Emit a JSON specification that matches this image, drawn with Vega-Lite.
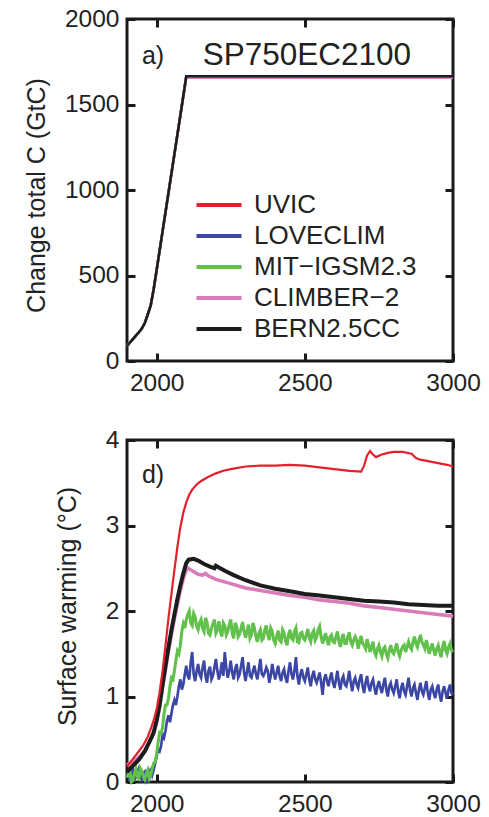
{
"$schema": "https://vega.github.io/schema/vega-lite/v6.json",
"padding": {"left": 22, "top": 4, "right": 5, "bottom": 5},
"background": "white",
"config": {
  "font": "Liberation Sans",
  "view": {"stroke": "#1a1a1a", "strokeWidth": 3},
  "axis": {"domain": false, "grid": false, "tickSize": -8, "tickWidth": 3, "tickColor": "#1a1a1a", "labelFontSize": 24.5, "labelColor": "#222", "titleFontSize": 25, "titleFontWeight": "normal", "titleColor": "#222", "labelFlush": false, "labelOverlap": false},
  "axisX": {"labelPadding": 18},
  "axisY": {"labelPadding": 16}
},
"datasets": {
"a": [
{"m":"UVIC","t":1900,"v":88},{"m":"UVIC","t":1910,"v":108},{"m":"UVIC","t":1920,"v":128},{"m":"UVIC","t":1930,"v":148},{"m":"UVIC","t":1940,"v":168},{"m":"UVIC","t":1950,"v":190},{"m":"UVIC","t":1960,"v":222},{"m":"UVIC","t":1970,"v":272},{"m":"UVIC","t":1980,"v":325},{"m":"UVIC","t":1990,"v":420},{"m":"UVIC","t":2000,"v":532},{"m":"UVIC","t":2010,"v":645},{"m":"UVIC","t":2020,"v":758},{"m":"UVIC","t":2030,"v":871},{"m":"UVIC","t":2040,"v":984},{"m":"UVIC","t":2050,"v":1097},{"m":"UVIC","t":2060,"v":1210},{"m":"UVIC","t":2070,"v":1323},{"m":"UVIC","t":2080,"v":1436},{"m":"UVIC","t":2090,"v":1550},{"m":"UVIC","t":2100,"v":1665},{"m":"UVIC","t":3000,"v":1665},
{"m":"LOVECLIM","t":1900,"v":88},{"m":"LOVECLIM","t":1910,"v":108},{"m":"LOVECLIM","t":1920,"v":128},{"m":"LOVECLIM","t":1930,"v":148},{"m":"LOVECLIM","t":1940,"v":168},{"m":"LOVECLIM","t":1950,"v":190},{"m":"LOVECLIM","t":1960,"v":222},{"m":"LOVECLIM","t":1970,"v":272},{"m":"LOVECLIM","t":1980,"v":325},{"m":"LOVECLIM","t":1990,"v":420},{"m":"LOVECLIM","t":2000,"v":532},{"m":"LOVECLIM","t":2010,"v":645},{"m":"LOVECLIM","t":2020,"v":758},{"m":"LOVECLIM","t":2030,"v":871},{"m":"LOVECLIM","t":2040,"v":984},{"m":"LOVECLIM","t":2050,"v":1097},{"m":"LOVECLIM","t":2060,"v":1210},{"m":"LOVECLIM","t":2070,"v":1323},{"m":"LOVECLIM","t":2080,"v":1436},{"m":"LOVECLIM","t":2090,"v":1550},{"m":"LOVECLIM","t":2100,"v":1665},{"m":"LOVECLIM","t":3000,"v":1665},
{"m":"MIT−IGSM2.3","t":1900,"v":88},{"m":"MIT−IGSM2.3","t":1910,"v":108},{"m":"MIT−IGSM2.3","t":1920,"v":128},{"m":"MIT−IGSM2.3","t":1930,"v":148},{"m":"MIT−IGSM2.3","t":1940,"v":168},{"m":"MIT−IGSM2.3","t":1950,"v":190},{"m":"MIT−IGSM2.3","t":1960,"v":222},{"m":"MIT−IGSM2.3","t":1970,"v":272},{"m":"MIT−IGSM2.3","t":1980,"v":325},{"m":"MIT−IGSM2.3","t":1990,"v":420},{"m":"MIT−IGSM2.3","t":2000,"v":532},{"m":"MIT−IGSM2.3","t":2010,"v":645},{"m":"MIT−IGSM2.3","t":2020,"v":758},{"m":"MIT−IGSM2.3","t":2030,"v":871},{"m":"MIT−IGSM2.3","t":2040,"v":984},{"m":"MIT−IGSM2.3","t":2050,"v":1097},{"m":"MIT−IGSM2.3","t":2060,"v":1210},{"m":"MIT−IGSM2.3","t":2070,"v":1323},{"m":"MIT−IGSM2.3","t":2080,"v":1436},{"m":"MIT−IGSM2.3","t":2090,"v":1550},{"m":"MIT−IGSM2.3","t":2100,"v":1665},{"m":"MIT−IGSM2.3","t":3000,"v":1665},
{"m":"CLIMBER−2","t":1900,"v":88},{"m":"CLIMBER−2","t":1910,"v":108},{"m":"CLIMBER−2","t":1920,"v":128},{"m":"CLIMBER−2","t":1930,"v":148},{"m":"CLIMBER−2","t":1940,"v":168},{"m":"CLIMBER−2","t":1950,"v":190},{"m":"CLIMBER−2","t":1960,"v":222},{"m":"CLIMBER−2","t":1970,"v":272},{"m":"CLIMBER−2","t":1980,"v":325},{"m":"CLIMBER−2","t":1990,"v":420},{"m":"CLIMBER−2","t":2000,"v":532},{"m":"CLIMBER−2","t":2010,"v":645},{"m":"CLIMBER−2","t":2020,"v":758},{"m":"CLIMBER−2","t":2030,"v":871},{"m":"CLIMBER−2","t":2040,"v":984},{"m":"CLIMBER−2","t":2050,"v":1097},{"m":"CLIMBER−2","t":2060,"v":1210},{"m":"CLIMBER−2","t":2070,"v":1323},{"m":"CLIMBER−2","t":2080,"v":1436},{"m":"CLIMBER−2","t":2090,"v":1548},{"m":"CLIMBER−2","t":2100,"v":1656},{"m":"CLIMBER−2","t":3000,"v":1656},
{"m":"BERN2.5CC","t":1900,"v":88},{"m":"BERN2.5CC","t":1910,"v":108},{"m":"BERN2.5CC","t":1920,"v":128},{"m":"BERN2.5CC","t":1930,"v":148},{"m":"BERN2.5CC","t":1940,"v":168},{"m":"BERN2.5CC","t":1950,"v":190},{"m":"BERN2.5CC","t":1960,"v":222},{"m":"BERN2.5CC","t":1970,"v":272},{"m":"BERN2.5CC","t":1980,"v":325},{"m":"BERN2.5CC","t":1990,"v":420},{"m":"BERN2.5CC","t":2000,"v":532},{"m":"BERN2.5CC","t":2010,"v":645},{"m":"BERN2.5CC","t":2020,"v":758},{"m":"BERN2.5CC","t":2030,"v":871},{"m":"BERN2.5CC","t":2040,"v":984},{"m":"BERN2.5CC","t":2050,"v":1097},{"m":"BERN2.5CC","t":2060,"v":1210},{"m":"BERN2.5CC","t":2070,"v":1323},{"m":"BERN2.5CC","t":2080,"v":1436},{"m":"BERN2.5CC","t":2090,"v":1550},{"m":"BERN2.5CC","t":2100,"v":1665},{"m":"BERN2.5CC","t":3000,"v":1665}
],
"d": [
{"m":"LOVECLIM","t":1900,"v":0.1},{"m":"LOVECLIM","t":1910,"v":0.02},{"m":"LOVECLIM","t":1920,"v":0.14},{"m":"LOVECLIM","t":1930,"v":0.05},{"m":"LOVECLIM","t":1940,"v":0.16},{"m":"LOVECLIM","t":1950,"v":0.03},{"m":"LOVECLIM","t":1960,"v":0.12},{"m":"LOVECLIM","t":1970,"v":0.06},{"m":"LOVECLIM","t":1980,"v":0.15},{"m":"LOVECLIM","t":1990,"v":0.14},
{"m":"LOVECLIM","t":2000,"v":0.3},{"m":"LOVECLIM","t":2010,"v":0.36},{"m":"LOVECLIM","t":2020,"v":0.56},{"m":"LOVECLIM","t":2030,"v":0.6},{"m":"LOVECLIM","t":2040,"v":0.78},{"m":"LOVECLIM","t":2050,"v":0.8},{"m":"LOVECLIM","t":2060,"v":0.96},{"m":"LOVECLIM","t":2070,"v":1.0},{"m":"LOVECLIM","t":2080,"v":1.2},{"m":"LOVECLIM","t":2090,"v":1.14},
{"m":"LOVECLIM","t":2100,"v":1.36},{"m":"LOVECLIM","t":2110,"v":1.2},{"m":"LOVECLIM","t":2120,"v":1.52},{"m":"LOVECLIM","t":2130,"v":1.18},{"m":"LOVECLIM","t":2140,"v":1.38},{"m":"LOVECLIM","t":2150,"v":1.22},{"m":"LOVECLIM","t":2160,"v":1.42},{"m":"LOVECLIM","t":2170,"v":1.16},{"m":"LOVECLIM","t":2180,"v":1.35},{"m":"LOVECLIM","t":2190,"v":1.24},
{"m":"LOVECLIM","t":2200,"v":1.44},{"m":"LOVECLIM","t":2210,"v":1.2},{"m":"LOVECLIM","t":2220,"v":1.4},{"m":"LOVECLIM","t":2230,"v":1.52},{"m":"LOVECLIM","t":2240,"v":1.22},{"m":"LOVECLIM","t":2250,"v":1.42},{"m":"LOVECLIM","t":2260,"v":1.2},{"m":"LOVECLIM","t":2270,"v":1.38},{"m":"LOVECLIM","t":2280,"v":1.26},{"m":"LOVECLIM","t":2290,"v":1.46},
{"m":"LOVECLIM","t":2300,"v":1.18},{"m":"LOVECLIM","t":2310,"v":1.4},{"m":"LOVECLIM","t":2320,"v":1.22},{"m":"LOVECLIM","t":2330,"v":1.36},{"m":"LOVECLIM","t":2340,"v":1.2},{"m":"LOVECLIM","t":2350,"v":1.44},{"m":"LOVECLIM","t":2360,"v":1.24},{"m":"LOVECLIM","t":2370,"v":1.34},{"m":"LOVECLIM","t":2380,"v":1.16},{"m":"LOVECLIM","t":2390,"v":1.38},
{"m":"LOVECLIM","t":2400,"v":1.2},{"m":"LOVECLIM","t":2410,"v":1.36},{"m":"LOVECLIM","t":2420,"v":1.18},{"m":"LOVECLIM","t":2430,"v":1.32},{"m":"LOVECLIM","t":2440,"v":1.16},{"m":"LOVECLIM","t":2450,"v":1.4},{"m":"LOVECLIM","t":2460,"v":1.2},{"m":"LOVECLIM","t":2470,"v":1.46},{"m":"LOVECLIM","t":2480,"v":1.14},{"m":"LOVECLIM","t":2490,"v":1.32},
{"m":"LOVECLIM","t":2500,"v":1.18},{"m":"LOVECLIM","t":2510,"v":1.34},{"m":"LOVECLIM","t":2520,"v":1.12},{"m":"LOVECLIM","t":2530,"v":1.3},{"m":"LOVECLIM","t":2540,"v":1.16},{"m":"LOVECLIM","t":2550,"v":1.28},{"m":"LOVECLIM","t":2560,"v":1.02},{"m":"LOVECLIM","t":2570,"v":1.26},{"m":"LOVECLIM","t":2580,"v":1.12},{"m":"LOVECLIM","t":2590,"v":1.28},
{"m":"LOVECLIM","t":2600,"v":1.1},{"m":"LOVECLIM","t":2610,"v":1.3},{"m":"LOVECLIM","t":2620,"v":1.08},{"m":"LOVECLIM","t":2630,"v":1.24},{"m":"LOVECLIM","t":2640,"v":1.12},{"m":"LOVECLIM","t":2650,"v":1.3},{"m":"LOVECLIM","t":2660,"v":1.06},{"m":"LOVECLIM","t":2670,"v":1.22},{"m":"LOVECLIM","t":2680,"v":1.1},{"m":"LOVECLIM","t":2690,"v":1.26},
{"m":"LOVECLIM","t":2700,"v":1.04},{"m":"LOVECLIM","t":2710,"v":1.24},{"m":"LOVECLIM","t":2720,"v":1.06},{"m":"LOVECLIM","t":2730,"v":1.2},{"m":"LOVECLIM","t":2740,"v":1.02},{"m":"LOVECLIM","t":2750,"v":1.18},{"m":"LOVECLIM","t":2760,"v":1.04},{"m":"LOVECLIM","t":2770,"v":1.22},{"m":"LOVECLIM","t":2780,"v":1.0},{"m":"LOVECLIM","t":2790,"v":1.16},
{"m":"LOVECLIM","t":2800,"v":1.04},{"m":"LOVECLIM","t":2810,"v":1.2},{"m":"LOVECLIM","t":2820,"v":0.98},{"m":"LOVECLIM","t":2830,"v":1.16},{"m":"LOVECLIM","t":2840,"v":1.02},{"m":"LOVECLIM","t":2850,"v":1.22},{"m":"LOVECLIM","t":2860,"v":1.0},{"m":"LOVECLIM","t":2870,"v":1.14},{"m":"LOVECLIM","t":2880,"v":0.96},{"m":"LOVECLIM","t":2890,"v":1.16},
{"m":"LOVECLIM","t":2900,"v":1.02},{"m":"LOVECLIM","t":2910,"v":1.18},{"m":"LOVECLIM","t":2920,"v":0.96},{"m":"LOVECLIM","t":2930,"v":1.12},{"m":"LOVECLIM","t":2940,"v":0.98},{"m":"LOVECLIM","t":2950,"v":1.14},{"m":"LOVECLIM","t":2960,"v":0.94},{"m":"LOVECLIM","t":2970,"v":1.12},{"m":"LOVECLIM","t":2980,"v":0.98},{"m":"LOVECLIM","t":2990,"v":1.14},{"m":"LOVECLIM","t":3000,"v":1.02},
{"m":"LOVECLIM","t":1905,"v":0.06},{"m":"LOVECLIM","t":1915,"v":0.1},{"m":"LOVECLIM","t":1925,"v":0.03},{"m":"LOVECLIM","t":1935,"v":0.12},{"m":"LOVECLIM","t":1945,"v":0.07},{"m":"LOVECLIM","t":1955,"v":0.1},{"m":"LOVECLIM","t":1965,"v":0.02},{"m":"LOVECLIM","t":1975,"v":0.13},{"m":"LOVECLIM","t":1985,"v":0.08},{"m":"LOVECLIM","t":1995,"v":0.22},
{"m":"LOVECLIM","t":2005,"v":0.38},{"m":"LOVECLIM","t":2015,"v":0.42},{"m":"LOVECLIM","t":2025,"v":0.52},{"m":"LOVECLIM","t":2035,"v":0.72},{"m":"LOVECLIM","t":2045,"v":0.7},{"m":"LOVECLIM","t":2055,"v":0.9},{"m":"LOVECLIM","t":2065,"v":0.9},{"m":"LOVECLIM","t":2075,"v":1.12},{"m":"LOVECLIM","t":2085,"v":1.08},{"m":"LOVECLIM","t":2095,"v":1.26},
{"m":"LOVECLIM","t":2105,"v":1.24},{"m":"LOVECLIM","t":2115,"v":1.4},{"m":"LOVECLIM","t":2125,"v":1.26},{"m":"LOVECLIM","t":2135,"v":1.3},{"m":"LOVECLIM","t":2145,"v":1.26},{"m":"LOVECLIM","t":2155,"v":1.34},{"m":"LOVECLIM","t":2165,"v":1.24},{"m":"LOVECLIM","t":2175,"v":1.3},{"m":"LOVECLIM","t":2185,"v":1.2},{"m":"LOVECLIM","t":2195,"v":1.34},
{"m":"LOVECLIM","t":2205,"v":1.3},{"m":"LOVECLIM","t":2215,"v":1.28},{"m":"LOVECLIM","t":2225,"v":1.24},{"m":"LOVECLIM","t":2235,"v":1.34},{"m":"LOVECLIM","t":2245,"v":1.3},{"m":"LOVECLIM","t":2255,"v":1.28},{"m":"LOVECLIM","t":2265,"v":1.32},{"m":"LOVECLIM","t":2275,"v":1.22},{"m":"LOVECLIM","t":2285,"v":1.36},{"m":"LOVECLIM","t":2295,"v":1.28},
{"m":"LOVECLIM","t":2305,"v":1.3},{"m":"LOVECLIM","t":2315,"v":1.24},{"m":"LOVECLIM","t":2325,"v":1.3},{"m":"LOVECLIM","t":2335,"v":1.26},{"m":"LOVECLIM","t":2345,"v":1.32},{"m":"LOVECLIM","t":2355,"v":1.26},{"m":"LOVECLIM","t":2365,"v":1.28},{"m":"LOVECLIM","t":2375,"v":1.3},{"m":"LOVECLIM","t":2385,"v":1.24},{"m":"LOVECLIM","t":2395,"v":1.28},
{"m":"LOVECLIM","t":2405,"v":1.28},{"m":"LOVECLIM","t":2415,"v":1.24},{"m":"LOVECLIM","t":2425,"v":1.28},{"m":"LOVECLIM","t":2435,"v":1.22},{"m":"LOVECLIM","t":2445,"v":1.3},{"m":"LOVECLIM","t":2455,"v":1.26},{"m":"LOVECLIM","t":2465,"v":1.3},{"m":"LOVECLIM","t":2475,"v":1.24},{"m":"LOVECLIM","t":2485,"v":1.26},{"m":"LOVECLIM","t":2495,"v":1.22},
{"m":"LOVECLIM","t":2505,"v":1.26},{"m":"LOVECLIM","t":2515,"v":1.2},{"m":"LOVECLIM","t":2525,"v":1.24},{"m":"LOVECLIM","t":2535,"v":1.2},{"m":"LOVECLIM","t":2545,"v":1.22},{"m":"LOVECLIM","t":2555,"v":1.16},{"m":"LOVECLIM","t":2565,"v":1.2},{"m":"LOVECLIM","t":2575,"v":1.18},{"m":"LOVECLIM","t":2585,"v":1.22},{"m":"LOVECLIM","t":2595,"v":1.16},
{"m":"LOVECLIM","t":2605,"v":1.2},{"m":"LOVECLIM","t":2615,"v":1.16},{"m":"LOVECLIM","t":2625,"v":1.2},{"m":"LOVECLIM","t":2635,"v":1.14},{"m":"LOVECLIM","t":2645,"v":1.2},{"m":"LOVECLIM","t":2655,"v":1.16},{"m":"LOVECLIM","t":2665,"v":1.18},{"m":"LOVECLIM","t":2675,"v":1.14},{"m":"LOVECLIM","t":2685,"v":1.2},{"m":"LOVECLIM","t":2695,"v":1.12},
{"m":"LOVECLIM","t":2705,"v":1.16},{"m":"LOVECLIM","t":2715,"v":1.12},{"m":"LOVECLIM","t":2725,"v":1.16},{"m":"LOVECLIM","t":2735,"v":1.1},{"m":"LOVECLIM","t":2745,"v":1.12},{"m":"LOVECLIM","t":2755,"v":1.1},{"m":"LOVECLIM","t":2765,"v":1.14},{"m":"LOVECLIM","t":2775,"v":1.08},{"m":"LOVECLIM","t":2785,"v":1.12},{"m":"LOVECLIM","t":2795,"v":1.08},
{"m":"LOVECLIM","t":2805,"v":1.12},{"m":"LOVECLIM","t":2815,"v":1.06},{"m":"LOVECLIM","t":2825,"v":1.1},{"m":"LOVECLIM","t":2835,"v":1.06},{"m":"LOVECLIM","t":2845,"v":1.12},{"m":"LOVECLIM","t":2855,"v":1.08},{"m":"LOVECLIM","t":2865,"v":1.1},{"m":"LOVECLIM","t":2875,"v":1.04},{"m":"LOVECLIM","t":2885,"v":1.08},{"m":"LOVECLIM","t":2895,"v":1.06},
{"m":"LOVECLIM","t":2905,"v":1.1},{"m":"LOVECLIM","t":2915,"v":1.04},{"m":"LOVECLIM","t":2925,"v":1.08},{"m":"LOVECLIM","t":2935,"v":1.04},{"m":"LOVECLIM","t":2945,"v":1.08},{"m":"LOVECLIM","t":2955,"v":1.02},{"m":"LOVECLIM","t":2965,"v":1.06},{"m":"LOVECLIM","t":2975,"v":1.04},{"m":"LOVECLIM","t":2985,"v":1.08},{"m":"LOVECLIM","t":2995,"v":1.04},
{"m":"MIT−IGSM2.3","t":1900,"v":0.05},{"m":"MIT−IGSM2.3","t":1910,"v":0.12},{"m":"MIT−IGSM2.3","t":1920,"v":0.02},{"m":"MIT−IGSM2.3","t":1930,"v":0.15},{"m":"MIT−IGSM2.3","t":1940,"v":0.04},{"m":"MIT−IGSM2.3","t":1950,"v":0.13},{"m":"MIT−IGSM2.3","t":1960,"v":0.03},{"m":"MIT−IGSM2.3","t":1970,"v":0.14},{"m":"MIT−IGSM2.3","t":1980,"v":0.08},{"m":"MIT−IGSM2.3","t":1990,"v":0.22},
{"m":"MIT−IGSM2.3","t":2000,"v":0.33},{"m":"MIT−IGSM2.3","t":2010,"v":0.58},{"m":"MIT−IGSM2.3","t":2020,"v":0.64},{"m":"MIT−IGSM2.3","t":2030,"v":0.9},{"m":"MIT−IGSM2.3","t":2040,"v":0.98},{"m":"MIT−IGSM2.3","t":2050,"v":1.22},{"m":"MIT−IGSM2.3","t":2060,"v":1.3},{"m":"MIT−IGSM2.3","t":2070,"v":1.53},{"m":"MIT−IGSM2.3","t":2080,"v":1.6},{"m":"MIT−IGSM2.3","t":2090,"v":1.85},
{"m":"MIT−IGSM2.3","t":2100,"v":1.9},{"m":"MIT−IGSM2.3","t":2110,"v":2.0},{"m":"MIT−IGSM2.3","t":2120,"v":1.83},{"m":"MIT−IGSM2.3","t":2130,"v":1.93},{"m":"MIT−IGSM2.3","t":2140,"v":1.78},{"m":"MIT−IGSM2.3","t":2150,"v":1.9},{"m":"MIT−IGSM2.3","t":2160,"v":1.76},{"m":"MIT−IGSM2.3","t":2170,"v":1.87},{"m":"MIT−IGSM2.3","t":2180,"v":1.72},{"m":"MIT−IGSM2.3","t":2190,"v":1.85},
{"m":"MIT−IGSM2.3","t":2200,"v":1.74},{"m":"MIT−IGSM2.3","t":2210,"v":1.88},{"m":"MIT−IGSM2.3","t":2220,"v":1.7},{"m":"MIT−IGSM2.3","t":2230,"v":1.83},{"m":"MIT−IGSM2.3","t":2240,"v":1.76},{"m":"MIT−IGSM2.3","t":2250,"v":1.9},{"m":"MIT−IGSM2.3","t":2260,"v":1.68},{"m":"MIT−IGSM2.3","t":2270,"v":1.82},{"m":"MIT−IGSM2.3","t":2280,"v":1.73},{"m":"MIT−IGSM2.3","t":2290,"v":1.87},
{"m":"MIT−IGSM2.3","t":2300,"v":1.69},{"m":"MIT−IGSM2.3","t":2310,"v":1.84},{"m":"MIT−IGSM2.3","t":2320,"v":1.72},{"m":"MIT−IGSM2.3","t":2330,"v":1.8},{"m":"MIT−IGSM2.3","t":2340,"v":1.64},{"m":"MIT−IGSM2.3","t":2350,"v":1.78},{"m":"MIT−IGSM2.3","t":2360,"v":1.68},{"m":"MIT−IGSM2.3","t":2370,"v":1.83},{"m":"MIT−IGSM2.3","t":2380,"v":1.66},{"m":"MIT−IGSM2.3","t":2390,"v":1.76},
{"m":"MIT−IGSM2.3","t":2400,"v":1.62},{"m":"MIT−IGSM2.3","t":2410,"v":1.77},{"m":"MIT−IGSM2.3","t":2420,"v":1.64},{"m":"MIT−IGSM2.3","t":2430,"v":1.74},{"m":"MIT−IGSM2.3","t":2440,"v":1.6},{"m":"MIT−IGSM2.3","t":2450,"v":1.78},{"m":"MIT−IGSM2.3","t":2460,"v":1.66},{"m":"MIT−IGSM2.3","t":2470,"v":1.8},{"m":"MIT−IGSM2.3","t":2480,"v":1.63},{"m":"MIT−IGSM2.3","t":2490,"v":1.75},
{"m":"MIT−IGSM2.3","t":2500,"v":1.66},{"m":"MIT−IGSM2.3","t":2510,"v":1.79},{"m":"MIT−IGSM2.3","t":2520,"v":1.64},{"m":"MIT−IGSM2.3","t":2530,"v":1.77},{"m":"MIT−IGSM2.3","t":2540,"v":1.7},{"m":"MIT−IGSM2.3","t":2550,"v":1.82},{"m":"MIT−IGSM2.3","t":2560,"v":1.62},{"m":"MIT−IGSM2.3","t":2570,"v":1.74},{"m":"MIT−IGSM2.3","t":2580,"v":1.6},{"m":"MIT−IGSM2.3","t":2590,"v":1.72},
{"m":"MIT−IGSM2.3","t":2600,"v":1.63},{"m":"MIT−IGSM2.3","t":2610,"v":1.76},{"m":"MIT−IGSM2.3","t":2620,"v":1.58},{"m":"MIT−IGSM2.3","t":2630,"v":1.73},{"m":"MIT−IGSM2.3","t":2640,"v":1.62},{"m":"MIT−IGSM2.3","t":2650,"v":1.75},{"m":"MIT−IGSM2.3","t":2660,"v":1.6},{"m":"MIT−IGSM2.3","t":2670,"v":1.7},{"m":"MIT−IGSM2.3","t":2680,"v":1.56},{"m":"MIT−IGSM2.3","t":2690,"v":1.71},
{"m":"MIT−IGSM2.3","t":2700,"v":1.6},{"m":"MIT−IGSM2.3","t":2710,"v":1.67},{"m":"MIT−IGSM2.3","t":2720,"v":1.52},{"m":"MIT−IGSM2.3","t":2730,"v":1.64},{"m":"MIT−IGSM2.3","t":2740,"v":1.48},{"m":"MIT−IGSM2.3","t":2750,"v":1.6},{"m":"MIT−IGSM2.3","t":2760,"v":1.47},{"m":"MIT−IGSM2.3","t":2770,"v":1.58},{"m":"MIT−IGSM2.3","t":2780,"v":1.45},{"m":"MIT−IGSM2.3","t":2790,"v":1.6},
{"m":"MIT−IGSM2.3","t":2800,"v":1.5},{"m":"MIT−IGSM2.3","t":2810,"v":1.62},{"m":"MIT−IGSM2.3","t":2820,"v":1.47},{"m":"MIT−IGSM2.3","t":2830,"v":1.58},{"m":"MIT−IGSM2.3","t":2840,"v":1.52},{"m":"MIT−IGSM2.3","t":2850,"v":1.64},{"m":"MIT−IGSM2.3","t":2860,"v":1.55},{"m":"MIT−IGSM2.3","t":2870,"v":1.7},{"m":"MIT−IGSM2.3","t":2880,"v":1.58},{"m":"MIT−IGSM2.3","t":2890,"v":1.72},
{"m":"MIT−IGSM2.3","t":2900,"v":1.6},{"m":"MIT−IGSM2.3","t":2910,"v":1.66},{"m":"MIT−IGSM2.3","t":2920,"v":1.5},{"m":"MIT−IGSM2.3","t":2930,"v":1.62},{"m":"MIT−IGSM2.3","t":2940,"v":1.48},{"m":"MIT−IGSM2.3","t":2950,"v":1.6},{"m":"MIT−IGSM2.3","t":2960,"v":1.46},{"m":"MIT−IGSM2.3","t":2970,"v":1.65},{"m":"MIT−IGSM2.3","t":2980,"v":1.5},{"m":"MIT−IGSM2.3","t":2990,"v":1.62},{"m":"MIT−IGSM2.3","t":3000,"v":1.52},
{"m":"MIT−IGSM2.3","t":1905,"v":0.09},{"m":"MIT−IGSM2.3","t":1915,"v":0.0},{"m":"MIT−IGSM2.3","t":1925,"v":0.1},{"m":"MIT−IGSM2.3","t":1935,"v":0.06},{"m":"MIT−IGSM2.3","t":1945,"v":0.16},{"m":"MIT−IGSM2.3","t":1955,"v":0.06},{"m":"MIT−IGSM2.3","t":1965,"v":0.1},{"m":"MIT−IGSM2.3","t":1975,"v":0.04},{"m":"MIT−IGSM2.3","t":1985,"v":0.16},{"m":"MIT−IGSM2.3","t":1995,"v":0.24},
{"m":"MIT−IGSM2.3","t":2005,"v":0.46},{"m":"MIT−IGSM2.3","t":2015,"v":0.57},{"m":"MIT−IGSM2.3","t":2025,"v":0.8},{"m":"MIT−IGSM2.3","t":2035,"v":0.9},{"m":"MIT−IGSM2.3","t":2045,"v":1.12},{"m":"MIT−IGSM2.3","t":2055,"v":1.2},{"m":"MIT−IGSM2.3","t":2065,"v":1.42},{"m":"MIT−IGSM2.3","t":2075,"v":1.5},{"m":"MIT−IGSM2.3","t":2085,"v":1.76},{"m":"MIT−IGSM2.3","t":2095,"v":1.8},
{"m":"MIT−IGSM2.3","t":2105,"v":1.96},{"m":"MIT−IGSM2.3","t":2115,"v":1.86},{"m":"MIT−IGSM2.3","t":2125,"v":1.97},{"m":"MIT−IGSM2.3","t":2135,"v":1.82},{"m":"MIT−IGSM2.3","t":2145,"v":1.86},{"m":"MIT−IGSM2.3","t":2155,"v":1.8},{"m":"MIT−IGSM2.3","t":2165,"v":1.92},{"m":"MIT−IGSM2.3","t":2175,"v":1.74},{"m":"MIT−IGSM2.3","t":2185,"v":1.8},{"m":"MIT−IGSM2.3","t":2195,"v":1.9},
{"m":"MIT−IGSM2.3","t":2205,"v":1.78},{"m":"MIT−IGSM2.3","t":2215,"v":1.76},{"m":"MIT−IGSM2.3","t":2225,"v":1.86},{"m":"MIT−IGSM2.3","t":2235,"v":1.72},{"m":"MIT−IGSM2.3","t":2245,"v":1.84},{"m":"MIT−IGSM2.3","t":2255,"v":1.74},{"m":"MIT−IGSM2.3","t":2265,"v":1.86},{"m":"MIT−IGSM2.3","t":2275,"v":1.7},{"m":"MIT−IGSM2.3","t":2285,"v":1.8},{"m":"MIT−IGSM2.3","t":2295,"v":1.76},
{"m":"MIT−IGSM2.3","t":2305,"v":1.76},{"m":"MIT−IGSM2.3","t":2315,"v":1.68},{"m":"MIT−IGSM2.3","t":2325,"v":1.86},{"m":"MIT−IGSM2.3","t":2335,"v":1.7},{"m":"MIT−IGSM2.3","t":2345,"v":1.74},{"m":"MIT−IGSM2.3","t":2355,"v":1.66},{"m":"MIT−IGSM2.3","t":2365,"v":1.78},{"m":"MIT−IGSM2.3","t":2375,"v":1.72},{"m":"MIT−IGSM2.3","t":2385,"v":1.8},{"m":"MIT−IGSM2.3","t":2395,"v":1.66},
{"m":"MIT−IGSM2.3","t":2405,"v":1.7},{"m":"MIT−IGSM2.3","t":2415,"v":1.66},{"m":"MIT−IGSM2.3","t":2425,"v":1.78},{"m":"MIT−IGSM2.3","t":2435,"v":1.65},{"m":"MIT−IGSM2.3","t":2445,"v":1.72},{"m":"MIT−IGSM2.3","t":2455,"v":1.68},{"m":"MIT−IGSM2.3","t":2465,"v":1.76},{"m":"MIT−IGSM2.3","t":2475,"v":1.64},{"m":"MIT−IGSM2.3","t":2485,"v":1.74},{"m":"MIT−IGSM2.3","t":2495,"v":1.68},
{"m":"MIT−IGSM2.3","t":2505,"v":1.72},{"m":"MIT−IGSM2.3","t":2515,"v":1.68},{"m":"MIT−IGSM2.3","t":2525,"v":1.74},{"m":"MIT−IGSM2.3","t":2535,"v":1.66},{"m":"MIT−IGSM2.3","t":2545,"v":1.78},{"m":"MIT−IGSM2.3","t":2555,"v":1.7},{"m":"MIT−IGSM2.3","t":2565,"v":1.68},{"m":"MIT−IGSM2.3","t":2575,"v":1.66},{"m":"MIT−IGSM2.3","t":2585,"v":1.7},{"m":"MIT−IGSM2.3","t":2595,"v":1.64},
{"m":"MIT−IGSM2.3","t":2605,"v":1.7},{"m":"MIT−IGSM2.3","t":2615,"v":1.64},{"m":"MIT−IGSM2.3","t":2625,"v":1.68},{"m":"MIT−IGSM2.3","t":2635,"v":1.62},{"m":"MIT−IGSM2.3","t":2645,"v":1.7},{"m":"MIT−IGSM2.3","t":2655,"v":1.64},{"m":"MIT−IGSM2.3","t":2665,"v":1.66},{"m":"MIT−IGSM2.3","t":2675,"v":1.66},{"m":"MIT−IGSM2.3","t":2685,"v":1.64},{"m":"MIT−IGSM2.3","t":2695,"v":1.62},
{"m":"MIT−IGSM2.3","t":2705,"v":1.56},{"m":"MIT−IGSM2.3","t":2715,"v":1.6},{"m":"MIT−IGSM2.3","t":2725,"v":1.58},{"m":"MIT−IGSM2.3","t":2735,"v":1.52},{"m":"MIT−IGSM2.3","t":2745,"v":1.56},{"m":"MIT−IGSM2.3","t":2755,"v":1.52},{"m":"MIT−IGSM2.3","t":2765,"v":1.56},{"m":"MIT−IGSM2.3","t":2775,"v":1.5},{"m":"MIT−IGSM2.3","t":2785,"v":1.54},{"m":"MIT−IGSM2.3","t":2795,"v":1.52},
{"m":"MIT−IGSM2.3","t":2805,"v":1.56},{"m":"MIT−IGSM2.3","t":2815,"v":1.52},{"m":"MIT−IGSM2.3","t":2825,"v":1.54},{"m":"MIT−IGSM2.3","t":2835,"v":1.6},{"m":"MIT−IGSM2.3","t":2845,"v":1.58},{"m":"MIT−IGSM2.3","t":2855,"v":1.58},{"m":"MIT−IGSM2.3","t":2865,"v":1.64},{"m":"MIT−IGSM2.3","t":2875,"v":1.62},{"m":"MIT−IGSM2.3","t":2885,"v":1.66},{"m":"MIT−IGSM2.3","t":2895,"v":1.64},
{"m":"MIT−IGSM2.3","t":2905,"v":1.56},{"m":"MIT−IGSM2.3","t":2915,"v":1.58},{"m":"MIT−IGSM2.3","t":2925,"v":1.56},{"m":"MIT−IGSM2.3","t":2935,"v":1.54},{"m":"MIT−IGSM2.3","t":2945,"v":1.56},{"m":"MIT−IGSM2.3","t":2955,"v":1.52},{"m":"MIT−IGSM2.3","t":2965,"v":1.58},{"m":"MIT−IGSM2.3","t":2975,"v":1.54},{"m":"MIT−IGSM2.3","t":2985,"v":1.58},{"m":"MIT−IGSM2.3","t":2995,"v":1.54},
{"m":"CLIMBER−2","t":1900,"v":0.2},{"m":"CLIMBER−2","t":1920,"v":0.24},{"m":"CLIMBER−2","t":1940,"v":0.29},{"m":"CLIMBER−2","t":1960,"v":0.36},{"m":"CLIMBER−2","t":1970,"v":0.42},{"m":"CLIMBER−2","t":1980,"v":0.5},{"m":"CLIMBER−2","t":1990,"v":0.57},{"m":"CLIMBER−2","t":2000,"v":0.7},{"m":"CLIMBER−2","t":2010,"v":0.88},{"m":"CLIMBER−2","t":2020,"v":1.1},{"m":"CLIMBER−2","t":2030,"v":1.32},{"m":"CLIMBER−2","t":2040,"v":1.53},{"m":"CLIMBER−2","t":2050,"v":1.73},{"m":"CLIMBER−2","t":2060,"v":1.91},{"m":"CLIMBER−2","t":2070,"v":2.08},{"m":"CLIMBER−2","t":2080,"v":2.24},{"m":"CLIMBER−2","t":2090,"v":2.38},{"m":"CLIMBER−2","t":2100,"v":2.48},{"m":"CLIMBER−2","t":2106,"v":2.5},{"m":"CLIMBER−2","t":2120,"v":2.47},{"m":"CLIMBER−2","t":2140,"v":2.43},{"m":"CLIMBER−2","t":2155,"v":2.42},{"m":"CLIMBER−2","t":2165,"v":2.44},{"m":"CLIMBER−2","t":2175,"v":2.41},{"m":"CLIMBER−2","t":2200,"v":2.37},{"m":"CLIMBER−2","t":2250,"v":2.32},{"m":"CLIMBER−2","t":2300,"v":2.27},{"m":"CLIMBER−2","t":2350,"v":2.24},{"m":"CLIMBER−2","t":2400,"v":2.21},{"m":"CLIMBER−2","t":2450,"v":2.18},{"m":"CLIMBER−2","t":2500,"v":2.16},{"m":"CLIMBER−2","t":2550,"v":2.13},{"m":"CLIMBER−2","t":2600,"v":2.11},{"m":"CLIMBER−2","t":2650,"v":2.09},{"m":"CLIMBER−2","t":2700,"v":2.06},{"m":"CLIMBER−2","t":2750,"v":2.04},{"m":"CLIMBER−2","t":2800,"v":2.02},{"m":"CLIMBER−2","t":2850,"v":2.0},{"m":"CLIMBER−2","t":2900,"v":1.98},{"m":"CLIMBER−2","t":2950,"v":1.96},{"m":"CLIMBER−2","t":3000,"v":1.94},
{"m":"BERN2.5CC","t":1900,"v":0.12},{"m":"BERN2.5CC","t":1920,"v":0.19},{"m":"BERN2.5CC","t":1940,"v":0.26},{"m":"BERN2.5CC","t":1960,"v":0.36},{"m":"BERN2.5CC","t":1970,"v":0.43},{"m":"BERN2.5CC","t":1980,"v":0.5},{"m":"BERN2.5CC","t":1990,"v":0.58},{"m":"BERN2.5CC","t":2000,"v":0.72},{"m":"BERN2.5CC","t":2010,"v":0.9},{"m":"BERN2.5CC","t":2020,"v":1.14},{"m":"BERN2.5CC","t":2030,"v":1.36},{"m":"BERN2.5CC","t":2040,"v":1.58},{"m":"BERN2.5CC","t":2050,"v":1.78},{"m":"BERN2.5CC","t":2060,"v":1.96},{"m":"BERN2.5CC","t":2070,"v":2.14},{"m":"BERN2.5CC","t":2080,"v":2.3},{"m":"BERN2.5CC","t":2090,"v":2.44},{"m":"BERN2.5CC","t":2100,"v":2.56},{"m":"BERN2.5CC","t":2108,"v":2.6},{"m":"BERN2.5CC","t":2125,"v":2.61},{"m":"BERN2.5CC","t":2140,"v":2.59},{"m":"BERN2.5CC","t":2160,"v":2.55},{"m":"BERN2.5CC","t":2180,"v":2.52},{"m":"BERN2.5CC","t":2195,"v":2.5},{"m":"BERN2.5CC","t":2200,"v":2.53},{"m":"BERN2.5CC","t":2210,"v":2.51},{"m":"BERN2.5CC","t":2230,"v":2.47},{"m":"BERN2.5CC","t":2260,"v":2.42},{"m":"BERN2.5CC","t":2300,"v":2.36},{"m":"BERN2.5CC","t":2350,"v":2.3},{"m":"BERN2.5CC","t":2400,"v":2.26},{"m":"BERN2.5CC","t":2450,"v":2.23},{"m":"BERN2.5CC","t":2500,"v":2.2},{"m":"BERN2.5CC","t":2550,"v":2.18},{"m":"BERN2.5CC","t":2600,"v":2.16},{"m":"BERN2.5CC","t":2650,"v":2.14},{"m":"BERN2.5CC","t":2700,"v":2.12},{"m":"BERN2.5CC","t":2750,"v":2.11},{"m":"BERN2.5CC","t":2800,"v":2.1},{"m":"BERN2.5CC","t":2850,"v":2.08},{"m":"BERN2.5CC","t":2900,"v":2.07},{"m":"BERN2.5CC","t":2950,"v":2.06},{"m":"BERN2.5CC","t":3000,"v":2.06},
{"m":"UVIC","t":1900,"v":0.18},{"m":"UVIC","t":1920,"v":0.27},{"m":"UVIC","t":1940,"v":0.36},{"m":"UVIC","t":1955,"v":0.43},{"m":"UVIC","t":1970,"v":0.53},{"m":"UVIC","t":1980,"v":0.62},{"m":"UVIC","t":1990,"v":0.72},{"m":"UVIC","t":2000,"v":0.85},{"m":"UVIC","t":2010,"v":1.05},{"m":"UVIC","t":2020,"v":1.3},{"m":"UVIC","t":2030,"v":1.6},{"m":"UVIC","t":2040,"v":1.92},{"m":"UVIC","t":2050,"v":2.2},{"m":"UVIC","t":2060,"v":2.48},{"m":"UVIC","t":2070,"v":2.75},{"m":"UVIC","t":2080,"v":2.98},{"m":"UVIC","t":2090,"v":3.15},{"m":"UVIC","t":2100,"v":3.27},{"m":"UVIC","t":2110,"v":3.36},{"m":"UVIC","t":2120,"v":3.42},{"m":"UVIC","t":2135,"v":3.48},{"m":"UVIC","t":2150,"v":3.52},{"m":"UVIC","t":2175,"v":3.57},{"m":"UVIC","t":2200,"v":3.61},{"m":"UVIC","t":2225,"v":3.64},{"m":"UVIC","t":2250,"v":3.66},{"m":"UVIC","t":2300,"v":3.69},{"m":"UVIC","t":2350,"v":3.7},{"m":"UVIC","t":2400,"v":3.7},{"m":"UVIC","t":2450,"v":3.71},{"m":"UVIC","t":2500,"v":3.7},{"m":"UVIC","t":2550,"v":3.68},{"m":"UVIC","t":2600,"v":3.66},{"m":"UVIC","t":2650,"v":3.64},{"m":"UVIC","t":2690,"v":3.63},{"m":"UVIC","t":2700,"v":3.7},{"m":"UVIC","t":2710,"v":3.82},{"m":"UVIC","t":2720,"v":3.87},{"m":"UVIC","t":2730,"v":3.83},{"m":"UVIC","t":2740,"v":3.8},{"m":"UVIC","t":2760,"v":3.83},{"m":"UVIC","t":2780,"v":3.85},{"m":"UVIC","t":2800,"v":3.86},{"m":"UVIC","t":2830,"v":3.86},{"m":"UVIC","t":2860,"v":3.84},{"m":"UVIC","t":2875,"v":3.79},{"m":"UVIC","t":2890,"v":3.77},{"m":"UVIC","t":2920,"v":3.75},{"m":"UVIC","t":2950,"v":3.73},{"m":"UVIC","t":2980,"v":3.71},{"m":"UVIC","t":3000,"v":3.69}
]
},
"spacing": 79,
"bounds": "flush",
"resolve": {"scale": {"x": "independent", "y": "independent", "color": "independent", "strokeWidth": "independent"}},
"vconcat": [
{
  "width": 326, "height": 342,
  "data": {"name": "a"},
  "resolve": {"axis": {"x": "independent", "y": "independent"}},
  "layer": [
    {
      "mark": {"type": "line", "strokeWidth": 2.5},
      "encoding": {
        "x": {"field": "t", "type": "quantitative", "scale": {"domain": [1900, 3000], "nice": false, "zero": false}, "axis": {"orient": "bottom", "values": [2000, 2500, 3000], "title": null, "format": "d"}},
        "y": {"field": "v", "type": "quantitative", "scale": {"domain": [0, 2000], "nice": false}, "axis": {"orient": "left", "values": [0, 500, 1000, 1500, 2000], "title": "Change total C (GtC)", "titlePadding": 15, "titleY": 176, "format": "d"}},
        "color": {"field": "m", "type": "nominal", "scale": {"domain": ["UVIC", "LOVECLIM", "MIT−IGSM2.3", "CLIMBER−2", "BERN2.5CC"], "range": ["#e3202b", "#3b46a5", "#62c04c", "#d97bb8", "#1c1c1c"]},
          "legend": {"orient": "none", "legendX": 79, "legendY": 173, "title": null, "symbolType": "M-3,0H3", "symbolSize": 225, "symbolStrokeWidth": 4, "labelFontSize": 26, "labelOffset": 22, "labelLimit": 400, "rowPadding": 5, "labelColor": "#222", "padding": 0}}
      }
    },
    {
      "data": {"values": [{"label": "a)"}]},
      "mark": {"type": "text", "fontSize": 25, "align": "center", "baseline": "middle", "color": "#222"},
      "encoding": {
        "x": {"datum": 1988, "type": "quantitative", "axis": {"orient": "top", "values": [2000, 2500, 3000], "labels": false, "title": null}},
        "y": {"datum": 1784, "type": "quantitative", "axis": {"orient": "right", "values": [0, 500, 1000, 1500, 2000], "labels": false, "title": null}},
        "text": {"field": "label"}
      }
    },
    {
      "data": {"values": [{"label": "SP750EC2100"}]},
      "mark": {"type": "text", "fontSize": 31.5, "align": "center", "baseline": "middle", "color": "#222"},
      "encoding": {
        "x": {"datum": 2507, "type": "quantitative", "axis": null},
        "y": {"datum": 1784, "type": "quantitative", "axis": null},
        "text": {"field": "label"}
      }
    }
  ]
},
{
  "width": 326, "height": 342,
  "data": {"name": "d"},
  "resolve": {"axis": {"x": "independent", "y": "independent"}},
  "layer": [
    {
      "mark": {"type": "line"},
      "encoding": {
        "x": {"field": "t", "type": "quantitative", "scale": {"domain": [1900, 3000], "nice": false, "zero": false}, "axis": {"orient": "bottom", "values": [2000, 2500, 3000], "title": null, "format": "d"}},
        "y": {"field": "v", "type": "quantitative", "scale": {"domain": [0, 4], "nice": false}, "axis": {"orient": "left", "values": [0, 1, 2, 3, 4], "title": "Surface warming (°C)", "titlePadding": 25, "titleY": 166, "format": "d"}},
        "color": {"field": "m", "type": "nominal", "scale": {"domain": ["UVIC", "LOVECLIM", "MIT−IGSM2.3", "CLIMBER−2", "BERN2.5CC"], "range": ["#e3202b", "#3b46a5", "#62c04c", "#d97bb8", "#1c1c1c"]}, "legend": null},
        "strokeWidth": {"field": "m", "type": "nominal", "scale": {"domain": ["UVIC", "LOVECLIM", "MIT−IGSM2.3", "CLIMBER−2", "BERN2.5CC"], "range": [2.2, 4, 4, 2.5, 2.5]}, "legend": null}
      }
    },
    {
      "data": {"values": [{"label": "d)"}]},
      "mark": {"type": "text", "fontSize": 25, "align": "center", "baseline": "middle", "color": "#222"},
      "encoding": {
        "x": {"datum": 1988, "type": "quantitative", "axis": {"orient": "top", "values": [2000, 2500, 3000], "labels": false, "title": null}},
        "y": {"datum": 3.59, "type": "quantitative", "axis": {"orient": "right", "values": [0, 1, 2, 3, 4], "labels": false, "title": null}},
        "text": {"field": "label"}
      }
    }
  ]
}
]
}
